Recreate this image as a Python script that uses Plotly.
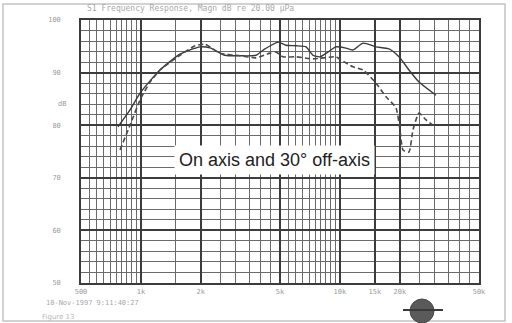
import plotly.graph_objects as go

# ---- data ----
freq_on = [767, 882, 990, 1247, 1572, 1982, 2223, 2645, 3147, 3787, 4202, 4886, 5360,
           6017, 6754, 7326, 7942, 8709, 9553, 10607, 11636, 13062, 15185, 17645,
           19815, 22231, 24971, 30406]
db_on = [79.7, 82.9, 86.1, 90.5, 93.5, 94.9, 94.7, 93.3, 93.2, 93.3, 94.5, 95.8, 95.2,
         95.1, 94.9, 93.3, 93.0, 93.9, 94.9, 94.7, 94.3, 95.6, 94.9, 94.5,
         93.0, 90.5, 88.2, 85.7]

freq_off = [785, 882, 990, 1111, 1247, 1572, 1870, 2099, 2497, 3147, 3787, 4452, 4773,
            5175, 6017, 7326, 8222, 9553, 10127, 11636, 13062, 15185, 17044, 19138,
            20044, 20750, 22231, 23288, 24971, 27085, 29371]
db_off = [75.3, 80.0, 84.8, 88.2, 90.5, 93.3, 95.1, 95.4, 93.7, 93.2, 92.8, 93.7, 93.9,
          93.0, 93.0, 92.6, 92.8, 93.0, 92.4, 91.1, 90.5, 88.0, 85.4, 83.3,
          79.1, 75.3, 74.9, 79.1, 82.3, 81.0, 80.0]

x_tick_vals = [500, 1000, 2000, 5000, 10000, 15000, 20000, 50000]
x_tick_text = ["500", "1k", "2k", "5k", "10k", "15k", "20k", "50k"]
x_minor_vals = ([550, 600, 650, 700, 750, 800, 850, 900, 950, 1500,
                 2500, 3000, 3500, 4000, 4500,
                 5500, 6000, 6500, 7000, 7500, 8000, 8500, 9000, 9500,
                 25000, 30000, 35000, 40000, 45000])
y_tick_vals = [50, 60, 70, 80, 90, 100]
y_tick_text = ["50", "60", "70", "80", "90", "100"]

W, H = 512, 323
L, R, T, B = 81, 33, 20, 40


def px(x):
    return (x - L) / (W - L - R)


def py(y):
    return (H - B - y) / (H - T - B)


fig = go.Figure()
fig.add_trace(go.Scatter(x=freq_on, y=db_on, mode="lines",
                         line=dict(color="#3a3a3a", width=1.4, shape="spline", smoothing=0.6),
                         showlegend=False))
fig.add_trace(go.Scatter(x=freq_off, y=db_off, mode="lines",
                         line=dict(color="#4a4a4a", width=1.6, dash="5px,3px",
                                   shape="spline", smoothing=0.5),
                         showlegend=False))

fig.update_xaxes(type="log", range=[2.69897, 4.69897],
                 tickmode="array", tickvals=x_tick_vals, ticktext=x_tick_text,
                 showgrid=True, gridcolor="#3c3c3c", gridwidth=1.6,
                 minor=dict(tickmode="array", tickvals=x_minor_vals, showgrid=True,
                            gridcolor="#6a6a6a", gridwidth=1),
                 ticks="outside", ticklen=1, tickcolor="rgba(0,0,0,0)",
                 tickfont=dict(size=7, color="#9a9a9a", family="DejaVu Sans Mono"),
                 showline=True, linecolor="#3c3c3c", linewidth=1.5, mirror=True,
                 zeroline=False)
fig.update_yaxes(range=[50, 100], tickmode="array", tickvals=y_tick_vals, ticktext=y_tick_text,
                 showgrid=True, gridcolor="#3c3c3c", gridwidth=1.6,
                 minor=dict(dtick=2, tick0=50, showgrid=True, gridcolor="#6a6a6a", gridwidth=1),
                 ticks="outside", ticklen=17, tickcolor="rgba(0,0,0,0)",
                 tickfont=dict(size=7, color="#9a9a9a", family="DejaVu Sans Mono"),
                 showline=True, linecolor="#3c3c3c", linewidth=1.5, mirror=True,
                 zeroline=False)

annotations = [
    dict(text="On axis and 30° off-axis", x=px(274), y=py(160), xref="paper", yref="paper",
         showarrow=False, bgcolor="white", borderpad=4,
         font=dict(size=18, color="#222222", family="Liberation Sans")),
    dict(text="S1 Frequency Response, Magn dB re 20.00 µPa", x=px(85), y=py(8),
         xref="paper", yref="paper", xanchor="left", yanchor="middle", showarrow=False,
         font=dict(size=8, color="#a8a8a8", family="DejaVu Sans Mono")),
    dict(text="dB", x=px(56), y=py(98), xref="paper", yref="paper", showarrow=False,
         font=dict(size=7, color="#9a9a9a", family="DejaVu Sans Mono")),
    dict(text="10-Nov-1997 9:11:40:27", x=px(44), y=py(303), xref="paper", yref="paper",
         xanchor="left", yanchor="middle", showarrow=False,
         font=dict(size=7, color="#a8a8a8", family="DejaVu Sans Mono")),
    dict(text="Figure 13", x=px(40), y=py(317), xref="paper", yref="paper",
         xanchor="left", yanchor="middle", showarrow=False,
         font=dict(size=7, color="#b8b8b8", family="DejaVu Sans")),
]

shapes = [
    dict(type="rect", xref="paper", yref="paper", x0=px(3), x1=px(505), y0=py(321), y1=py(4),
         line=dict(color="#c4c4c4", width=1.5), layer="below"),
    dict(type="circle", xref="paper", yref="paper", x0=px(410), x1=px(434), y0=py(323), y1=py(299),
         fillcolor="#5a5a5a", line=dict(color="#4a4a4a", width=1)),
    dict(type="line", xref="paper", yref="paper", x0=px(403), x1=px(443), y0=py(310), y1=py(310),
         line=dict(color="#3a3a3a", width=2)),
]

fig.update_layout(width=W, height=H, margin=dict(l=L, r=R, t=T, b=B),
                  paper_bgcolor="white", plot_bgcolor="white",
                  annotations=annotations, shapes=shapes, showlegend=False)

fig.write_html("out.html")
